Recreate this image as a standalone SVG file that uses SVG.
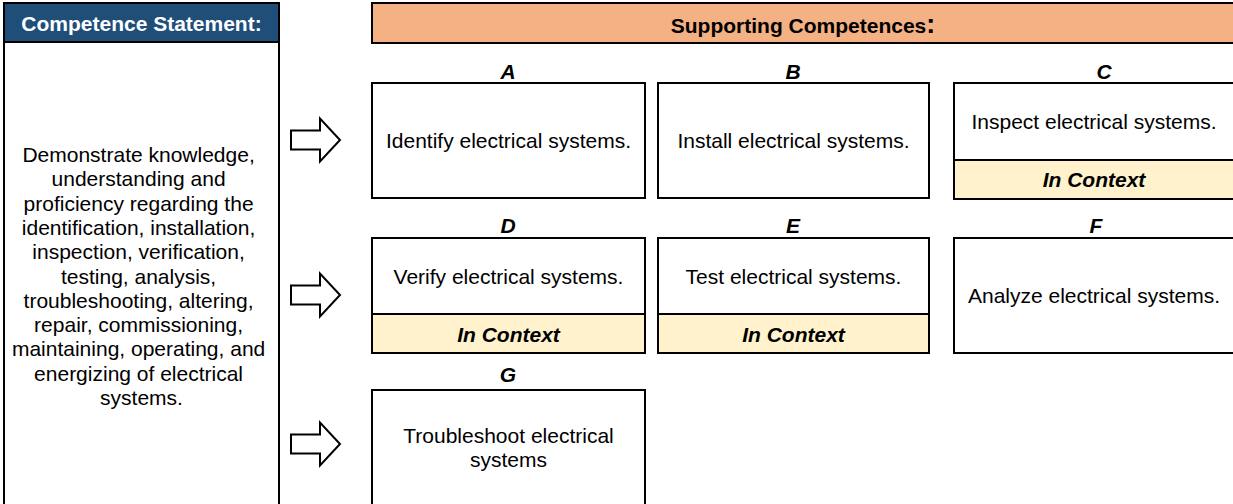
<svg xmlns="http://www.w3.org/2000/svg" xmlns:xlink="http://www.w3.org/1999/xlink" width="1233" height="504" viewBox="0 0 1233 504">
<style>
.box{fill:#fff;stroke:#000;stroke-width:2}
.ctx{fill:#FFF2CC;stroke:#000;stroke-width:2}
.t{font-family:"Liberation Sans",Arial,sans-serif;font-size:21px;fill:#000;text-anchor:middle}
.b{font-weight:bold}
.bi{font-weight:bold;font-style:italic}
.arrow{fill:#fff;stroke:#000;stroke-width:2;stroke-linejoin:miter}
</style>
<defs>
<path id="blk" class="arrow" d="M0,-9.5 H29 V-21.5 L49,0 L29,21.5 V9.5 H0 Z"/>
</defs>
<rect width="1233" height="504" fill="#fff"/>
<g id="statement">
<rect class="box" x="4" y="3" width="275" height="530"/>
<rect x="4" y="3" width="275" height="39" fill="#1F4E79" stroke="#000" stroke-width="2"/>
<text class="t b" x="141.5" y="31" fill="#fff" style="fill:#fff">Competence Statement:</text>
<text class="t" x="141.5" y="162">
<tspan x="141.5" dy="0">Demonstrate knowledge,</tspan>
<tspan x="141.5" dy="24.3">understanding and</tspan>
<tspan x="141.5" dy="24.3">proficiency regarding the</tspan>
<tspan x="141.5" dy="24.3">identification, installation,</tspan>
<tspan x="141.5" dy="24.3">inspection, verification,</tspan>
<tspan x="141.5" dy="24.3">testing, analysis,</tspan>
<tspan x="141.5" dy="24.3">troubleshooting, altering,</tspan>
<tspan x="141.5" dy="24.3">repair, commissioning,</tspan>
<tspan x="141.5" dy="24.3">maintaining, operating, and</tspan>
<tspan x="141.5" dy="24.3">energizing of electrical</tspan>
<tspan x="141.5" dy="24.3">systems.</tspan>
</text>
</g>
<g id="supporting-header">
<rect x="372" y="3" width="900" height="40" fill="#F4B183" stroke="#000" stroke-width="2"/>
<text class="t b" x="803" y="33">Supporting Competences<tspan font-size="27">:</tspan></text>
</g>
<g id="connectors">
<use xlink:href="#blk" x="291" y="140"/>
<use xlink:href="#blk" x="291" y="295"/>
<use xlink:href="#blk" x="291" y="444"/>
</g>
<g id="A">
<text class="t bi" x="508" y="79">A</text>
<rect class="box" x="372" y="83" width="273" height="115"/>
<text class="t" x="508.5" y="148">Identify electrical systems.</text>
</g>
<g id="B">
<text class="t bi" x="793" y="79">B</text>
<rect class="box" x="658" y="83" width="271" height="115"/>
<text class="t" x="793.5" y="148">Install electrical systems.</text>
</g>
<g id="C">
<text class="t bi" x="1104" y="79">C</text>
<rect class="box" x="954" y="83" width="300" height="116"/>
<rect class="ctx" x="954" y="160" width="300" height="39"/>
<text class="t" x="1094" y="129">Inspect electrical systems.</text>
<text class="t bi" x="1094" y="187">In Context</text>
</g>
<g id="D">
<text class="t bi" x="508" y="233">D</text>
<rect class="box" x="372" y="238" width="273" height="115"/>
<rect class="ctx" x="372" y="314" width="273" height="39"/>
<text class="t" x="508.5" y="284">Verify electrical systems.</text>
<text class="t bi" x="508.5" y="342">In Context</text>
</g>
<g id="E">
<text class="t bi" x="793" y="233">E</text>
<rect class="box" x="658" y="238" width="271" height="115"/>
<rect class="ctx" x="658" y="314" width="271" height="39"/>
<text class="t" x="793.5" y="284">Test electrical systems.</text>
<text class="t bi" x="793.5" y="342">In Context</text>
</g>
<g id="F">
<text class="t bi" x="1096" y="233">F</text>
<rect class="box" x="954" y="238" width="300" height="115"/>
<text class="t" x="1094" y="303">Analyze electrical systems.</text>
</g>
<g id="G">
<text class="t bi" x="508" y="382">G</text>
<rect class="box" x="372" y="390" width="273" height="140"/>
<text class="t" x="508.5" y="443">Troubleshoot electrical</text>
<text class="t" x="508.5" y="467">systems</text>
</g>
</svg>
